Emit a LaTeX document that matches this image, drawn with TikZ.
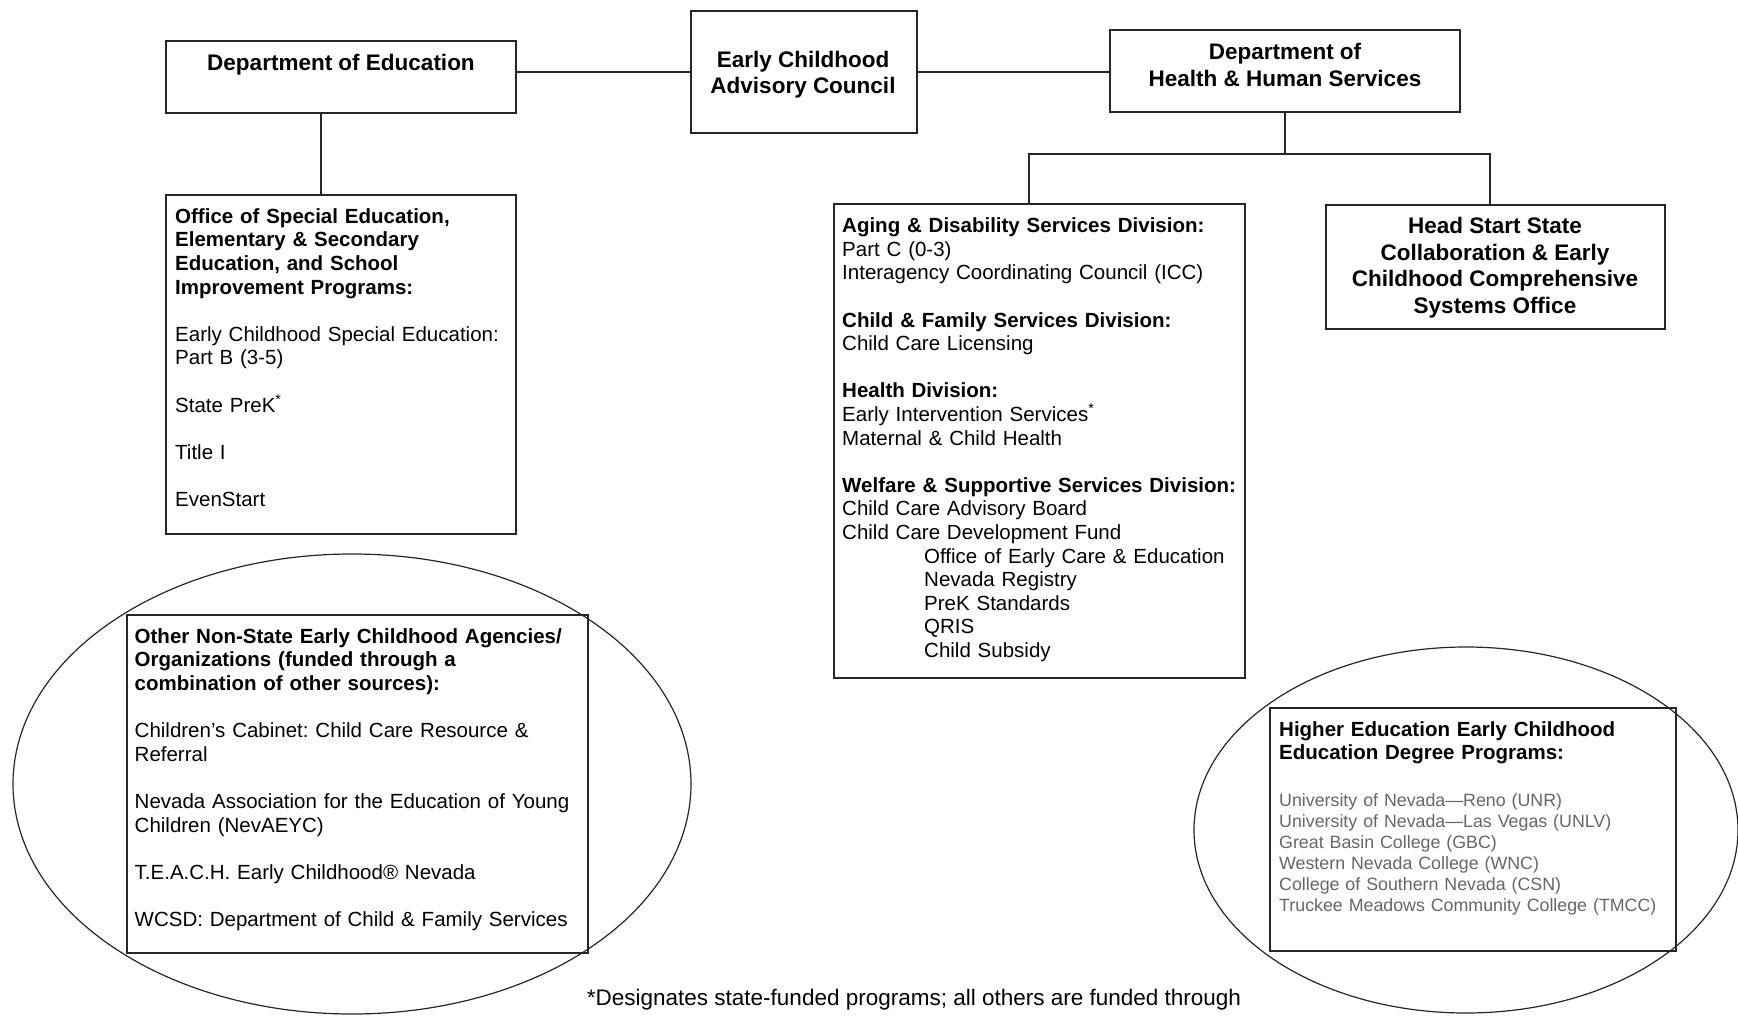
\documentclass[tikz,border=0pt]{standalone}
\usepackage{fontspec}
\setmainfont{Liberation Sans}
\frenchspacing
\begin{document}
\begin{tikzpicture}[x=1pt,y=-1pt,
  frame/.style={draw=black!85,line width=1.3pt,inner sep=0pt},
  link/.style={draw=black!85,line width=1.3pt},
  ring/.style={draw=black!85,line width=1.2pt},
  title/.style={font=\fontsize{22.5}{26.5}\selectfont\bfseries,align=center,inner sep=0pt,anchor=north},
  body/.style={font=\fontsize{20.5}{23.6}\selectfont,text width=560pt,align=left,inner sep=0pt,anchor=north west},
  list/.style={font=\fontsize{17.8}{21}\selectfont,text width=500pt,align=left,inner sep=0pt,anchor=north west,text=black!60}]
  \useasboundingbox (0,0) rectangle (1738,1015);
  \draw[ring] (352,784) ellipse [x radius=339pt,y radius=230pt];
  \draw[ring] (1466,830) ellipse [x radius=272pt,y radius=183pt];
  \node[frame,minimum width=350pt,minimum height=72pt] (doe) at (341,77) {};
  \node[frame,minimum width=226pt,minimum height=122pt] (ecac) at (804,72) {};
  \node[frame,minimum width=350pt,minimum height=82pt] (dhhs) at (1285,71) {};
  \node[frame,minimum width=350pt,minimum height=339pt] (office) at (341,364.5) {};
  \node[frame,minimum width=411pt,minimum height=474pt] (aging) at (1039.5,441) {};
  \node[frame,minimum width=339pt,minimum height=124pt] (hss) at (1495.5,267) {};
  \node[frame,minimum width=461pt,minimum height=338pt] (other) at (357.5,784) {};
  \node[frame,minimum width=406pt,minimum height=243pt] (higher) at (1473,829.5) {};
  \node[title] (doetxt) at (341,51.5) {\strut Department of Education};
  \node[title] (ecactxt) at (803,48.5) {\strut Early Childhood\\Advisory Council};
  \node[title] (dhhstxt) at (1285,41) {\strut Department of\\Health \& Human Services};
  \node[title] (hsstxt) at (1495,215) {\strut Head Start State\\Collaboration \& Early\\Childhood Comprehensive\\Systems Office};
  \node[body] (officetxt) at (175,206.5) {\strut{\bfseries Office of Special Education,\\Elementary \& Secondary\\Education, and School\\Improvement Programs:}\\[23.6pt]
    Early Childhood Special Education:\\Part B (3-5)\\[23.6pt]
    State PreK\textsuperscript{*}\\[23.6pt]
    Title I\\[23.6pt]
    EvenStart};
  \node[body] (agingtxt) at (842,216) {\strut{\bfseries Aging \& Disability Services Division:}\\Part C (0-3)\\Interagency Coordinating Council (ICC)\\[23.6pt]
    {\bfseries Child \& Family Services Division:}\\Child Care Licensing\\[23.6pt]
    {\bfseries Health Division:}\\Early Intervention Services\textsuperscript{*}\\Maternal \& Child Health\\[23.6pt]
    {\bfseries Welfare \& Supportive Services Division:}\\Child Care Advisory Board\\Child Care Development Fund\\
    \hspace*{82pt}Office of Early Care \& Education\\
    \hspace*{82pt}Nevada Registry\\
    \hspace*{82pt}PreK Standards\\
    \hspace*{82pt}QRIS\\
    \hspace*{82pt}Child Subsidy};
  \node[body] (othertxt) at (134.5,626.5) {\strut{\bfseries Other Non-State Early Childhood Agencies/\\Organizations (funded through a\\combination of other sources):}\\[23.6pt]
    Children’s Cabinet: Child Care Resource \&\\Referral\\[23.6pt]
    Nevada Association for the Education of Young\\Children (NevAEYC)\\[23.6pt]
    T.E.A.C.H. Early Childhood® Nevada\\[23.6pt]
    WCSD: Department of Child \& Family Services};
  \node[body] (highertxt) at (1279,719.5) {\strut\bfseries Higher Education Early Childhood\\Education Degree Programs:};
  \node[list] (collegetxt) at (1279,792) {\strut University of Nevada—Reno (UNR)\\University of Nevada—Las Vegas (UNLV)\\Great Basin College (GBC)\\Western Nevada College (WNC)\\College of Southern Nevada (CSN)\\Truckee Meadows Community College (TMCC)};
  \node[font=\fontsize{22.5}{26}\selectfont,anchor=base,inner sep=0pt] (note) at (914,1005) {*Designates state-funded programs; all others are funded through};
  \draw[link] (ecac.west) -- (ecac.west -| doe.east);
  \draw[link] (ecac.east) -- (ecac.east -| dhhs.west);
  \draw[link] ([xshift=-20pt]doe.south) -- ([xshift=-20pt]doe.south |- office.north);
  \coordinate (fork) at (1285,154);
  \draw[link] (dhhs.south) -- (fork);
  \draw[link] ([xshift=-10.5pt]aging.north) |- (fork) -| ([xshift=-5.5pt]hss.north);
\end{tikzpicture}
\end{document}
